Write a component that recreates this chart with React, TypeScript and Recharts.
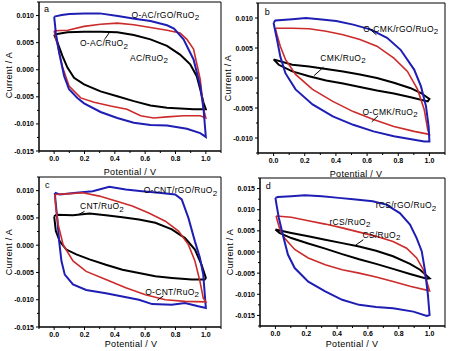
import React from 'react';
import { LineChart, Line, XAxis, YAxis, ReferenceArea, ReferenceDot, ReferenceLine } from 'recharts';

type Pt = [number, number];

// ---------- tick values ----------
const POTENTIAL_MAJOR = [0, 0.2, 0.4, 0.6, 0.8, 1.0];
const POTENTIAL_MINOR = [-0.1, 0.1, 0.3, 0.5, 0.7, 0.9, 1.1];
const CURRENT_MAJOR_AC = [-0.015, -0.01, -0.005, 0, 0.005, 0.01];
const CURRENT_MINOR_AC = [-0.0125, -0.0075, -0.0025, 0.0025, 0.0075, 0.0125];
const CURRENT_MAJOR_B = [-0.01, -0.005, 0, 0.005, 0.01];
const CURRENT_MINOR_B = [-0.0125, -0.0075, -0.0025, 0.0025, 0.0075, 0.0125];
const CURRENT_MAJOR_D = [-0.015, -0.01, -0.005, 0, 0.005, 0.01, 0.015];
const CURRENT_MINOR_D = [-0.0175, -0.0125, -0.0075, -0.0025, 0.0025, 0.0075, 0.0125, 0.0175];

// ---------- series names ----------
const NAMES_A = ['O-AC/rGO/RuO2', 'O-AC/RuO2', 'AC/RuO2'];
const NAMES_B = ['O-CMK/rGO/RuO2', 'O-CMK/RuO2', 'CMK/RuO2'];
const NAMES_C = ['O-CNT/rGO/RuO2', 'O-CNT/RuO2', 'CNT/RuO2'];
const NAMES_D = ['rCS/rGO/RuO2', 'rCS/RuO2', 'CS/RuO2'];

// ---------- CV loops: [potential V, current A] ----------
const A_BLUE: Pt[] = [[0,0.0098],[0.05,0.0101],[0.1,0.0103],[0.2,0.0104],[0.3,0.0104],[0.42,0.0099],[0.53,0.0094],[0.635,0.009],[0.744,0.0082],[0.79,0.0076],[0.853,0.0056],[0.919,0.0019],[0.963,-0.003],[0.985,-0.0073],[1.0,-0.0124],
  [0.963,-0.0117],[0.875,-0.0109],[0.744,-0.0103],[0.635,-0.0102],[0.525,-0.0098],[0.416,-0.0089],[0.306,-0.0078],[0.197,-0.0062],[0.153,-0.0052],[0.098,-0.0036],[0.066,-0.0012],[0.033,0.0031],[0.011,0.0068],[0,0.0098]];
const A_RED: Pt[] = [[0,0.0072],[0.09,0.0073],[0.197,0.008],[0.306,0.0084],[0.416,0.0086],[0.525,0.0083],[0.635,0.0078],[0.744,0.0073],[0.83,0.0068],[0.875,0.0056],[0.919,0.0038],[0.963,-0.0018],[0.985,-0.0073],[1.0,-0.0089],
  [0.963,-0.0085],[0.853,-0.0085],[0.744,-0.0087],[0.656,-0.0089],[0.57,-0.0085],[0.48,-0.0073],[0.372,-0.0067],[0.263,-0.006],[0.175,-0.0052],[0.098,-0.003],[0.055,0.0005],[0.022,0.0045],[0,0.0072]];
const A_BLACK: Pt[] = [[0,0.0065],[0.0875,0.0069],[0.197,0.007],[0.306,0.007],[0.416,0.0069],[0.525,0.0064],[0.635,0.0056],[0.744,0.0044],[0.83,0.0028],[0.897,0.001],[0.94,-0.0012],[0.963,-0.0036],[0.985,-0.0061],[1.0,-0.0073],
  [0.919,-0.0073],[0.744,-0.007],[0.635,-0.0066],[0.525,-0.0058],[0.416,-0.0049],[0.306,-0.004],[0.197,-0.0027],[0.131,-0.0015],[0.0875,0.0004],[0.055,0.0025],[0.022,0.005],[0,0.0065]];

const B_BLUE: Pt[] = [[0,0.0092],[0.011,0.0096],[0.12,0.0098],[0.207,0.01],[0.293,0.0098],[0.402,0.0095],[0.511,0.0089],[0.62,0.0081],[0.728,0.0067],[0.815,0.0047],[0.902,0.0014],[0.946,-0.0014],[0.978,-0.0047],[0.995,-0.0081],[1.0,-0.0106],
  [0.967,-0.0106],[0.902,-0.0103],[0.772,-0.0097],[0.641,-0.0089],[0.511,-0.0078],[0.38,-0.0064],[0.25,-0.0044],[0.141,-0.0019],[0.076,0.0008],[0.043,0.0036],[0.022,0.0064],[0.007,0.0083],[0,0.0092]];
const B_RED: Pt[] = [[0.011,0.0083],[0.12,0.0083],[0.228,0.0082],[0.337,0.0078],[0.446,0.0072],[0.554,0.0064],[0.663,0.0053],[0.772,0.0033],[0.859,0.0011],[0.924,-0.0019],[0.967,-0.0053],[0.989,-0.0086],[1.0,-0.0094],
  [0.902,-0.0089],[0.772,-0.0081],[0.641,-0.0069],[0.511,-0.0056],[0.38,-0.0039],[0.25,-0.0019],[0.141,0.0006],[0.076,0.0031],[0.043,0.0053],[0.022,0.0072],[0.011,0.0083]];
const B_BLACK: Pt[] = [[0,0.0031],[0.12,0.0022],[0.228,0.0019],[0.337,0.0015],[0.446,0.0011],[0.554,0.0006],[0.663,0],[0.772,-0.0008],[0.88,-0.0017],[0.946,-0.0025],[1.0,-0.0035],
  [0.989,-0.0039],[0.88,-0.0032],[0.772,-0.0026],[0.663,-0.0021],[0.554,-0.0015],[0.446,-0.0009],[0.337,-0.0004],[0.228,0.0003],[0.12,0.0011],[0.033,0.0022],[0,0.0031]];

const C_BLUE: Pt[] = [[0.004,0.0096],[0.037,0.0093],[0.146,0.0096],[0.254,0.0099],[0.363,0.0107],[0.472,0.0102],[0.58,0.0099],[0.689,0.0096],[0.798,0.0093],[0.841,0.0084],[0.885,0.005],[0.928,0.0007],[0.961,-0.0023],[0.983,-0.0054],[1.0,-0.0115],
  [0.95,-0.0112],[0.863,-0.0106],[0.776,-0.0109],[0.646,-0.0108],[0.559,-0.01],[0.45,-0.0094],[0.341,-0.0088],[0.211,-0.0082],[0.124,-0.0072],[0.07,-0.0054],[0.048,-0.0029],[0.033,0.0007],[0.02,0.005],[0.009,0.0081],[0.004,0.0096]];
const C_RED: Pt[] = [[0.004,0.0093],[0.08,0.0094],[0.189,0.0096],[0.298,0.009],[0.407,0.0081],[0.515,0.0072],[0.624,0.0059],[0.733,0.0044],[0.82,0.0026],[0.885,0.0001],[0.928,-0.0029],[0.961,-0.0066],[0.983,-0.0097],[1.0,-0.0104],
  [0.863,-0.0103],[0.733,-0.01],[0.602,-0.0091],[0.472,-0.0078],[0.341,-0.0063],[0.211,-0.0048],[0.124,-0.0029],[0.059,0.0001],[0.026,0.0038],[0.011,0.0069],[0.004,0.0093]];
const C_BLACK: Pt[] = [[0,0.0053],[0.015,0.0056],[0.124,0.0055],[0.233,0.0058],[0.341,0.0055],[0.45,0.0051],[0.559,0.0047],[0.667,0.0041],[0.776,0.0029],[0.863,0.0013],[0.928,-0.0008],[0.972,-0.0036],[1.0,-0.006],
  [0.993,-0.0063],[0.907,-0.0063],[0.776,-0.006],[0.667,-0.0057],[0.559,-0.0051],[0.45,-0.0045],[0.341,-0.0036],[0.233,-0.0026],[0.146,-0.0017],[0.08,-0.0008],[0.037,0.0007],[0.011,0.0026],[0,0.0053]];

const D_BLUE: Pt[] = [[0,0.0128],[0.015,0.013],[0.103,0.0132],[0.191,0.0134],[0.301,0.0132],[0.411,0.0128],[0.521,0.0124],[0.631,0.012],[0.719,0.0112],[0.807,0.0092],[0.873,0.0065],[0.916,0.0033],[0.949,0.0002],[0.971,-0.0046],[0.989,-0.0101],[1.0,-0.0149],
  [0.982,-0.0151],[0.895,-0.0141],[0.763,-0.0133],[0.653,-0.013],[0.543,-0.0125],[0.433,-0.0113],[0.323,-0.0093],[0.213,-0.007],[0.125,-0.0038],[0.081,-0.0006],[0.048,0.0041],[0.022,0.0081],[0.007,0.0112],[0,0.0128]];
const D_RED: Pt[] = [[0.004,0.0085],[0.103,0.0082],[0.213,0.0074],[0.323,0.0066],[0.433,0.0057],[0.543,0.0047],[0.653,0.0037],[0.763,0.0025],[0.851,0.0009],[0.916,-0.0014],[0.96,-0.0042],[0.982,-0.007],[1.0,-0.0092],
  [0.873,-0.0081],[0.763,-0.007],[0.653,-0.0059],[0.543,-0.005],[0.433,-0.0042],[0.323,-0.003],[0.213,-0.0014],[0.125,0.0006],[0.059,0.0033],[0.026,0.0057],[0.004,0.0085]];
const D_BLACK: Pt[] = [[0,0.0053],[0.103,0.0045],[0.213,0.0037],[0.323,0.0029],[0.433,0.0021],[0.543,0.0013],[0.653,0.0003],[0.763,-0.001],[0.873,-0.0028],[0.938,-0.0042],[1.0,-0.0062],
  [0.982,-0.0063],[0.873,-0.0052],[0.763,-0.004],[0.653,-0.0028],[0.543,-0.0017],[0.433,-0.0005],[0.323,0.0008],[0.213,0.002],[0.103,0.0033],[0.026,0.0045],[0,0.0053]];

// ---------- styling ----------
const FONT = '"Liberation Sans", Arial, Helvetica, sans-serif';
const BLUE = '#1e1eb4';
const RED = '#cc2b2b';
const BLACK = '#000000';

const X_TICKS = [...POTENTIAL_MAJOR, ...POTENTIAL_MINOR].sort((a, b) => a - b);
const isIn = (arr: number[], v: number) => arr.some((m) => Math.abs(m - v) < 1e-9);
const toRows = (pts: Pt[]) => pts.map(([v, i]) => ({ v, i }));

const XTick = (props: any) => {
  const { x, y, payload } = props;
  const major = isIn(POTENTIAL_MAJOR, payload.value);
  return (
    <g>
      <line x1={x} y1={y} x2={x} y2={y + (major ? 3 : 2)} stroke="#000" strokeWidth={1} />
      {major && (
        <text x={x} y={y + 9.5} textAnchor="middle" fontSize={7} fontWeight="bold" fontFamily={FONT} fill="#000">
          {payload.value.toFixed(1)}
        </text>
      )}
    </g>
  );
};

const makeYTick = (majors: number[]) => (props: any) => {
  const { x, y, payload } = props;
  const v = payload.value;
  const major = isIn(majors, v);
  return (
    <g>
      <line x1={x} y1={y} x2={x - (major ? 3 : 2)} y2={y} stroke="#000" strokeWidth={1} />
      {major && (
        <text x={x - 5} y={y + 2.5} textAnchor="end" fontSize={7} fontWeight="bold" fontFamily={FONT} fill="#000">
          {(Math.abs(v) < 1e-12 ? 0 : v).toFixed(3)}
        </text>
      )}
    </g>
  );
};

const Annot = ({ cx, cy, text, size = 8.5 }: any) => {
  const main = text.slice(0, -1);
  const sub = text.slice(-1);
  return (
    <text x={cx} y={cy} fontSize={size} fontFamily={FONT} fill="#000" letterSpacing={0.3}>
      {main}
      <tspan dy={2.5} fontSize={size - 0.5}>{sub}</tspan>
    </text>
  );
};

type Label = { name: string; v: number; i: number };
type Leader = [number, number, number, number];
type PanelCfg = {
  letter: string; letterAt: [number, number];
  left: number; top: number; width: number; height: number;
  margin: { top: number; right: number; bottom: number; left: number };
  yDomain: [number, number]; yMajor: number[]; yMinor: number[];
  curves: { pts: Pt[]; color: string; w: number }[];
  labels: Label[]; leaders: Leader[];
};

const PANELS: PanelCfg[] = [
  {
    letter: 'a', letterAt: [-0.067, 0.0106],
    left: 0, top: 0, width: 225, height: 175,
    margin: { top: 2, right: 4, bottom: 4, left: 9 },
    yDomain: [-0.015, 0.0125], yMajor: CURRENT_MAJOR_AC, yMinor: CURRENT_MINOR_AC,
    curves: [{ pts: A_BLACK, color: BLACK, w: 2 }, { pts: A_RED, color: RED, w: 1.6 }, { pts: A_BLUE, color: BLUE, w: 2 }],
    labels: [
      { name: NAMES_A[0], v: 0.51, i: 0.0096 },
      { name: NAMES_A[1], v: 0.17, i: 0.0043 },
      { name: NAMES_A[2], v: 0.5, i: 0.0017 },
    ],
    leaders: [[0.335, 0.0057, 0.37, 0.0071]],
  },
  {
    letter: 'b', letterAt: [-0.056, 0.0105],
    left: 225, top: 0, width: 225, height: 175,
    margin: { top: 3, right: 5, bottom: 2, left: 3 },
    yDomain: [-0.0125, 0.0125], yMajor: CURRENT_MAJOR_B, yMinor: CURRENT_MINOR_B,
    curves: [{ pts: B_BLACK, color: BLACK, w: 2 }, { pts: B_RED, color: RED, w: 1.6 }, { pts: B_BLUE, color: BLUE, w: 2 }],
    labels: [
      { name: NAMES_B[0], v: 0.576, i: 0.0077 },
      { name: NAMES_B[1], v: 0.57, i: -0.0061 },
      { name: NAMES_B[2], v: 0.3, i: 0.0029 },
    ],
    leaders: [[0.66, 0.0072, 0.62, 0.0081], [0.32, 0.0018, 0.26, 0.0004], [0.67, -0.0063, 0.63, -0.0073]],
  },
  {
    letter: 'c', letterAt: [-0.06, 0.0105],
    left: 0, top: 175, width: 225, height: 176,
    margin: { top: 2, right: 4, bottom: 4, left: 9 },
    yDomain: [-0.015, 0.0125], yMajor: CURRENT_MAJOR_AC, yMinor: CURRENT_MINOR_AC,
    curves: [{ pts: C_BLACK, color: BLACK, w: 2 }, { pts: C_BLUE, color: BLUE, w: 2 }, { pts: C_RED, color: RED, w: 1.6 }],
    labels: [
      { name: NAMES_C[0], v: 0.59, i: 0.0095 },
      { name: NAMES_C[1], v: 0.6, i: -0.0091 },
      { name: NAMES_C[2], v: 0.17, i: 0.0066 },
    ],
    leaders: [[0.72, -0.0093, 0.68, -0.0101], [0.2, 0.0062, 0.16, 0.0056]],
  },
  {
    letter: 'd', letterAt: [-0.062, 0.015],
    left: 225, top: 175, width: 225, height: 176,
    margin: { top: 3, right: 5, bottom: 5, left: 5 },
    yDomain: [-0.0175, 0.0175], yMajor: CURRENT_MAJOR_D, yMinor: CURRENT_MINOR_D,
    curves: [{ pts: D_BLACK, color: BLACK, w: 2 }, { pts: D_RED, color: RED, w: 1.6 }, { pts: D_BLUE, color: BLUE, w: 2 }],
    labels: [
      { name: NAMES_D[0], v: 0.65, i: 0.0103 },
      { name: NAMES_D[1], v: 0.35, i: 0.0065 },
      { name: NAMES_D[2], v: 0.565, i: 0.0034 },
    ],
    leaders: [[0.57, 0.0029, 0.52, 0.0016]],
  },
];

const Panel = ({ cfg }: { cfg: PanelCfg }) => (
  <div style={{ position: 'absolute', left: cfg.left, top: cfg.top }}>
    <LineChart width={cfg.width} height={cfg.height} margin={cfg.margin}>
      <XAxis
        dataKey="v" type="number" domain={[-0.1, 1.1]} ticks={X_TICKS} interval={0}
        tickSize={0} tickMargin={0} tickLine={false} tick={XTick} height={20}
        allowDataOverflow axisLine={{ stroke: '#000', strokeWidth: 1 }}
      />
      <YAxis
        type="number" domain={cfg.yDomain} ticks={[...cfg.yMajor, ...cfg.yMinor].sort((a, b) => a - b)} interval={0}
        tickSize={0} tickMargin={0} tickLine={false} tick={makeYTick(cfg.yMajor)} width={30}
        allowDataOverflow axisLine={{ stroke: '#000', strokeWidth: 1 }}
      />
      <ReferenceArea
        x1={-0.1} x2={1.1} y1={cfg.yDomain[0]} y2={cfg.yDomain[1]}
        fill="none" fillOpacity={0} stroke="#000" strokeWidth={1} ifOverflow="visible"
      />
      {cfg.curves.map((c, k) => (
        <Line
          key={k} data={toRows(c.pts)} dataKey="i" type="linear" stroke={c.color}
          strokeWidth={c.w} dot={false} activeDot={false} isAnimationActive={false}
        />
      ))}
      {cfg.leaders.map((l, k) => (
        <ReferenceLine
          key={'l' + k} segment={[{ x: l[0], y: l[1] }, { x: l[2], y: l[3] }]}
          stroke="#000" strokeWidth={1} ifOverflow="visible"
        />
      ))}
      {cfg.labels.map((l, k) => (
        <ReferenceDot
          key={'t' + k} x={l.v} y={l.i} r={0} ifOverflow="visible"
          shape={(p: any) => <Annot cx={p.cx} cy={p.cy} text={l.name} />}
        />
      ))}
      <ReferenceDot
        x={cfg.letterAt[0]} y={cfg.letterAt[1]} r={0} ifOverflow="visible"
        shape={(p: any) => (
          <text x={p.cx} y={p.cy} fontSize={9} fontFamily={FONT} fill="#000">{cfg.letter}</text>
        )}
      />
    </LineChart>
  </div>
);

const TITLES_X = [[130, 175], [356, 177], [131, 347], [352, 347]];
const TITLES_Y = [[12, 75], [231, 78], [12, 252], [233, 252]];

export default function App() {
  return (
    <div style={{ position: 'absolute', left: 0, top: 0, width: 450, height: 351, background: '#fff', overflow: 'hidden' }}>
      {PANELS.map((p) => <Panel key={p.letter} cfg={p} />)}
      <svg width={450} height={351} style={{ position: 'absolute', left: 0, top: 0, pointerEvents: 'none' }}>
        {TITLES_X.map(([x, y], k) => (
          <text key={'x' + k} x={x} y={y} textAnchor="middle" fontSize={9} fontFamily={FONT} fill="#000" letterSpacing={0.3}>
            Potential / V
          </text>
        ))}
        {TITLES_Y.map(([x, y], k) => (
          <text key={'y' + k} x={x} y={y} textAnchor="middle" fontSize={9} fontFamily={FONT} fill="#000"
            transform={`rotate(-90 ${x} ${y})`} letterSpacing={0.3}>
            Current / A
          </text>
        ))}
      </svg>
    </div>
  );
}
